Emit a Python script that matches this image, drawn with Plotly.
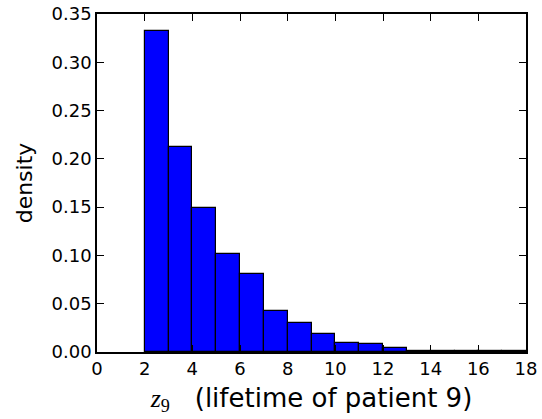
import plotly.graph_objects as go

bin_left = [2, 3, 4, 5, 6, 7, 8, 9, 10, 11, 12, 13, 14, 15, 16, 17]
density = [0.332, 0.212, 0.149, 0.101, 0.081, 0.042, 0.030, 0.019, 0.009, 0.008,
           0.0045, 0.0013, 0.0013, 0.001, 0.0007, 0.0013]
x_ticks = list(range(0, 19, 2))
y_ticks = [0.0, 0.05, 0.10, 0.15, 0.20, 0.25, 0.30, 0.35]

centers = [b + 0.5 for b in bin_left]

fig = go.Figure(go.Bar(
    x=centers, y=density, width=1,
    marker=dict(color="#0000ff", line=dict(color="black", width=1.2)),
))

font = dict(family="DejaVu Sans", size=18, color="black")
fig.update_layout(
    width=542, height=419,
    margin=dict(l=97, r=16, t=14, b=67),
    paper_bgcolor="white", plot_bgcolor="white",
    showlegend=False, bargap=0,
    font=font,
)
xtitle = ("<span style=\"font-family:'Liberation Serif'\"><i>z</i><sub>9</sub></span>"
          "   (lifetime of patient 9)")
fig.update_xaxes(
    range=[0, 18], tickvals=x_ticks, ticktext=[str(v) for v in x_ticks],
    ticks="inside", ticklen=7, tickwidth=1, tickcolor="black",
    showline=True, linecolor="black", linewidth=1.5, mirror="ticks",
    showgrid=False, zeroline=False, automargin=False,
    tickfont=dict(family="DejaVu Sans", size=18),
    title=dict(text=xtitle, font=dict(family="DejaVu Sans", size=26), standoff=10),
)
fig.update_yaxes(
    range=[0, 0.35], tickvals=y_ticks, ticktext=[f"{v:.2f}" for v in y_ticks],
    ticks="inside", ticklen=7, tickwidth=1, tickcolor="black",
    showline=True, linecolor="black", linewidth=1.5, mirror="ticks",
    showgrid=False, zeroline=False, automargin=False,
    tickfont=dict(family="DejaVu Sans", size=18),
    title=dict(text="density", font=dict(family="DejaVu Sans", size=22), standoff=13),
)

fig.write_html("out.html")
